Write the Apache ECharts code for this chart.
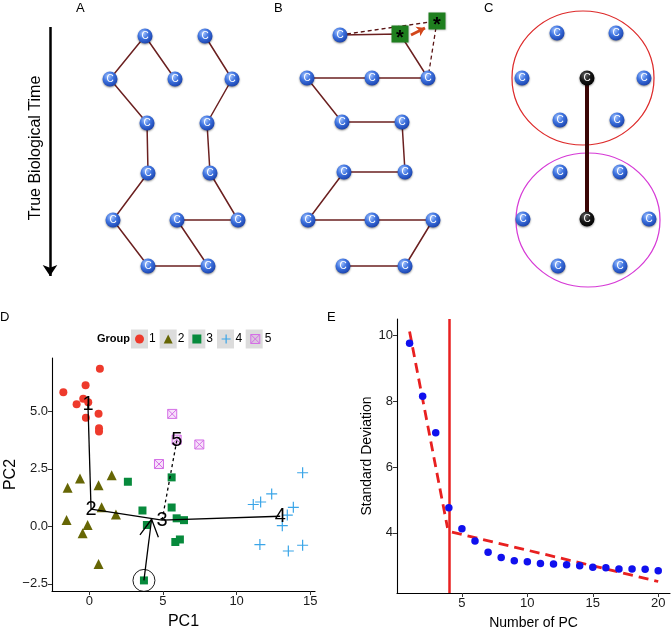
<!DOCTYPE html>
<html><head><meta charset="utf-8">
<script src="https://cdn.jsdelivr.net/npm/echarts@6/dist/echarts.min.js"></script>
<style>html,body{margin:0;padding:0;background:#fff}#c{width:671px;height:631px}</style>
</head><body><div id="c"></div>
<script>
// ================= DATA =================
// Panels A-C: schematic node positions (pixel-like coordinate space 0..671 x 0..631)
const nodesA = [[145,36],[205,36],[110,79],[175,79],[232,79],[147,123],[207,123],[148,173],[210,173],[113,220],[177,220],[238,220],[148,266],[208,266]];
const pathA = [[175,79],[145,36],[110,79],[147,123],[148,173],[113,220],[148,266],[208,266],[177,220],[238,220],[210,173],[207,123],[232,79],[205,36]];
const timeArrow = [[50,27],[50,276]];
const nodesB = [[340,35],[307,78],[372,78],[428,78],[342,122],[402,122],[344,172],[405,172],[308,220],[372,220],[433,220],[343,266],[405,266]];
const pathB = [[340,35],[400,34],[428,78],[372,78],[307,78],[342,122],[402,122],[405,172],[344,172],[308,220],[372,220],[433,220],[405,266],[343,266]];
const dashedB = [[340,35],[437,21],[428,78]];
const starsB = [[400,34],[437,21]];
const moveArrowB = [[411,35],[425,28]];
const nodesC = [[557,33],[616,33],[522,78],[644,78],[560,120],[617,120],[560,172],[620,172],[523,219],[649,219],[558,266],[620,266]];
const centersC = [[587,78],[587,219]];
const circleTopC = [[583,78]];
const circleBottomC = [[588,220]];

// Panel D: PCA scatter
const g1 = [[0.72,6.85],[-0.25,6.13],[-1.76,5.83],[-0.41,5.55],[-0.86,5.31],[-0.07,5.40],[-0.23,4.72],[0.63,4.90],[0.66,4.27],[0.66,4.12]];
const g2 = [[-0.63,2.08],[-1.47,1.68],[1.52,2.22],[0.63,1.79],[0.84,0.83],[1.81,0.52],[-1.54,0.28],[-0.11,0.06],[-0.45,-0.30],[0.63,-1.64]];
const g3 = [[2.62,1.94],[5.59,2.13],[3.61,0.69],[5.59,0.82],[3.91,0.06],[5.93,0.35],[6.43,0.27],[5.84,-0.68],[6.15,-0.57],[3.71,-2.35]];
const g4 = [[14.48,2.33],[12.38,1.41],[11.63,1.06],[11.13,0.95],[13.85,0.83],[13.44,0.49],[13.10,0.03],[11.58,-0.79],[14.48,-0.82],[13.51,-1.07]];
const g5 = [[5.63,4.89],[7.47,3.56],[4.73,2.71],[5.93,3.77]];
const groupNames = ['1','2','3','4','5'];
const clusterX = [-0.09, 0.12, 4.94, 12.96, 5.94];
const clusterY = [5.31, 0.75, 0.27, 0.44, 3.73];
const solidEdges = [[0,1],[1,2],[2,3]];
const dashedEdges = [[2,4]];
const highlightCell = [3.71,-2.35];
const arrowTip = [4.23,0.31];
const arrowHeadL = [3.44,-0.37];
const arrowHeadR = [4.69,-0.47];
const dTicksX = [0,5,10,15];
const dTicksY = [-2.5,0,2.5,5];

// Panel E: scree plot
const pcIndex = [1,2,3,4,5,6,7,8,9,10,11,12,13,14,15,16,17,18,19,20];
const sdValues = [9.76,8.15,7.04,4.76,4.12,3.75,3.41,3.25,3.15,3.12,3.07,3.05,3.03,3.00,2.95,2.94,2.90,2.90,2.89,2.85];
const fitLine1 = [[1,10.12],[3.9,4.15]];
const fitLine2 = [[4.24,4.02],[20,2.52]];
const cutoffPC = 4;
const eTicksX = [5,10,15,20];
const eTicksY = [4,6,8,10];

// ================= STYLE =================
const FONT = '"Liberation Sans", Arial, Helvetica, sans-serif';
const edgeColor = '#6b2020';
const blueBall = {type:'radial', x:0.38, y:0.32, r:0.75, colorStops:[{offset:0,color:'#a9c8ff'},{offset:0.45,color:'#3f74e0'},{offset:1,color:'#163da8'}]};
const blackBall = {type:'radial', x:0.38, y:0.32, r:0.75, colorStops:[{offset:0,color:'#6a6a6a'},{offset:0.5,color:'#151515'},{offset:1,color:'#000'}]};
const colors = ['#ee3a2c','#666605','#078a3c','#3aa5e8','#d46ee6'];
const plusPath = 'path://M5,0L5,10M0,5L10,5';
const boxXPath = 'path://M0,0L10,0L10,10L0,10ZM0,0L10,10M10,0L0,10';

function nodeSeries(data, ball){
  return {type:'scatter', xAxisIndex:0, yAxisIndex:0, data:data, symbol:'circle', symbolSize:15, z:5,
    itemStyle:{color:ball, opacity:1, shadowBlur:2, shadowColor:'rgba(0,0,0,0.45)', shadowOffsetY:1},
    label:{show:true, position:'inside', formatter:'C', color:'#fff', fontSize:10, fontFamily:FONT}, silent:true};
}
function pathSeries(data, style){
  return {type:'line', xAxisIndex:0, yAxisIndex:0, data:data, symbol:'none', z:2, silent:true, lineStyle:style};
}
function axisCommon(){
  return {
    axisLine:{show:true, onZero:false, lineStyle:{color:'#000', width:1.1}},
    splitLine:{show:false},
    nameLocation:'middle'
  };
}
function ticks(vals){ return {show:true, length:4, customValues:vals, lineStyle:{color:'#333'}}; }
function labels(vals, fmt){ return {customValues:vals, color:'#1a1a1a', fontSize:13, margin:4, formatter:fmt}; }
const fmtD = v => (v<0?'\u2212':'') + Math.abs(v).toFixed(1);
const fmtI = v => String(v);

const series = [];
// ---- Panels A/B/C ----
series.push(pathSeries(pathA, {color:edgeColor, width:1.5}));
series.push({type:'lines', coordinateSystem:'cartesian2d', xAxisIndex:0, yAxisIndex:0, silent:true, z:2,
  data:[{coords:timeArrow}], symbol:['none','arrow'], symbolSize:[9,11], lineStyle:{color:'#000', width:2.5, opacity:1}});
series.push(nodeSeries(nodesA, blueBall));
series.push(pathSeries(pathB, {color:edgeColor, width:1.5}));
series.push(pathSeries(dashedB, {color:'#5a1515', width:1.3, type:[4,3]}));
series.push({type:'lines', coordinateSystem:'cartesian2d', xAxisIndex:0, yAxisIndex:0, silent:true, z:3,
  data:[{coords:moveArrowB}], symbol:['none','arrow'], symbolSize:8, lineStyle:{color:'#d2461a', width:3, opacity:1}});
series.push({type:'scatter', xAxisIndex:0, yAxisIndex:0, data:starsB, symbol:'rect', symbolSize:17, z:4, silent:true,
  itemStyle:{color:'#1f7f1f', opacity:1, shadowBlur:2, shadowColor:'rgba(0,0,0,0.3)'},
  label:{show:true, position:'inside', formatter:'*', color:'#000', fontSize:20, fontWeight:'bold', offset:[0,4], fontFamily:FONT}});
series.push(nodeSeries(nodesB, blueBall));
series.push({type:'scatter', xAxisIndex:0, yAxisIndex:0, data:circleTopC, symbol:'circle', symbolSize:[142,134], z:1, silent:true,
  itemStyle:{color:'rgba(0,0,0,0)', opacity:1, borderColor:'#dd2a2a', borderWidth:1.2}});
series.push({type:'scatter', xAxisIndex:0, yAxisIndex:0, data:circleBottomC, symbol:'circle', symbolSize:[144,134], z:1, silent:true,
  itemStyle:{color:'rgba(0,0,0,0)', opacity:1, borderColor:'#d63ad6', borderWidth:1.2}});
series.push(pathSeries(centersC, {color:'#3a0606', width:4}));
series.push(nodeSeries(nodesC, blueBall));
series.push(nodeSeries(centersC, blackBall));

// ---- Panel D ----
const groups = [g1,g2,g3,g4,g5];
const gSymbols = ['circle','triangle','rect',plusPath,boxXPath];
const gSizes = [8,10,8,11,9];
function groupStyle(i){
  if (i===3) return {color:'rgba(0,0,0,0)', opacity:1, borderColor:colors[3], borderWidth:1.2};
  if (i===4) return {color:'rgba(214,110,230,0.2)', opacity:1, borderColor:colors[4], borderWidth:1};
  return {color:colors[i], opacity:1, borderWidth:0};
}
groups.forEach((g,i)=>{
  series.push({type:'scatter', name:groupNames[i], xAxisIndex:1, yAxisIndex:1, data:g, symbol:gSymbols[i], symbolSize:gSizes[i], itemStyle:groupStyle(i), z:3, silent:true});
});
series.push({type:'scatter', xAxisIndex:1, yAxisIndex:1, data:[highlightCell], symbol:'circle', symbolSize:22, z:3, silent:true,
  itemStyle:{color:'rgba(0,0,0,0)', opacity:1, borderColor:'#000', borderWidth:0.9}});
solidEdges.forEach(e=>{
  series.push({type:'line', xAxisIndex:1, yAxisIndex:1, symbol:'none', z:4, silent:true,
    data:[[clusterX[e[0]],clusterY[e[0]]],[clusterX[e[1]],clusterY[e[1]]]], lineStyle:{color:'#000', width:1.3}});
});
dashedEdges.forEach(e=>{
  series.push({type:'line', xAxisIndex:1, yAxisIndex:1, symbol:'none', z:4, silent:true,
    data:[[clusterX[e[0]],clusterY[e[0]]],[clusterX[e[1]],clusterY[e[1]]]], lineStyle:{color:'#000', width:1.3, type:[3,3]}});
});
series.push({type:'line', xAxisIndex:1, yAxisIndex:1, symbol:'none', z:4, silent:true, data:[highlightCell, arrowTip], lineStyle:{color:'#000', width:1.3}});
series.push({type:'line', xAxisIndex:1, yAxisIndex:1, symbol:'none', z:4, silent:true, data:[arrowHeadL, arrowTip, arrowHeadR], lineStyle:{color:'#000', width:1.3}});
series.push({type:'scatter', xAxisIndex:1, yAxisIndex:1, symbolSize:0, z:6, silent:true,
  itemStyle:{opacity:1},
  data:clusterX.map((x,i)=>({value:[x,clusterY[i]], label:{formatter:groupNames[i]}})),
  label:{show:true, position:'inside', color:'#000', fontSize:20, fontFamily:FONT}});

// ---- Panel E ----
series.push({type:'line', xAxisIndex:2, yAxisIndex:2, data:fitLine1, symbol:'none', z:3, silent:true, lineStyle:{color:'#e82020', width:2.8, type:[10,6]}});
series.push({type:'line', xAxisIndex:2, yAxisIndex:2, data:fitLine2, symbol:'none', z:3, silent:true, lineStyle:{color:'#e82020', width:2.8, type:[10,6]},
  markLine:{symbol:'none', silent:true, label:{show:false}, lineStyle:{color:'#e82020', type:'solid', width:2.5}, data:[{xAxis:cutoffPC}]}});
series.push({type:'scatter', xAxisIndex:2, yAxisIndex:2, data:pcIndex.map((p,i)=>[p,sdValues[i]]), symbol:'circle', symbolSize:7.5, z:5, silent:true,
  itemStyle:{color:'#1010ee', opacity:1}});

// ---- Legend (D) ----
const legendData = groupNames.map((n,i)=>({name:n, icon:gSymbols[i], itemStyle:groupStyle(i)}));
const keyBoxes = groupNames.map((n,i)=>({type:'rect', z:1, shape:{x:131+i*28.67, y:329.5, width:17, height:19}, style:{fill:'#dcdcdc'}}));

const panelLabels = [['A',76,2],['B',274,2],['C',484,2],['D',0,311],['E',327,311]];

const option = {
  animation:false,
  textStyle:{fontFamily:FONT},
  grid:[
    {left:0, top:0, width:671, height:631},
    {left:52, top:358, width:263, height:239},
    {left:397, top:319, width:273, height:278}
  ],
  xAxis:[
    {gridIndex:0, type:'value', min:0, max:671, show:false},
    Object.assign(axisCommon(), {gridIndex:1, type:'value', min:-2.53, max:15.32, name:'PC1', nameGap:23,
      nameTextStyle:{fontSize:16, color:'#000', fontFamily:FONT},
      axisTick:ticks(dTicksX), axisLabel:labels(dTicksX, fmtI)}),
    Object.assign(axisCommon(), {gridIndex:2, type:'value', min:0.04, max:20.9, name:'Number of PC', nameGap:23,
      nameTextStyle:{fontSize:14, color:'#000', fontFamily:FONT},
      axisTick:ticks(eTicksX), axisLabel:labels(eTicksX, fmtI)})
  ],
  yAxis:[
    {gridIndex:0, type:'value', min:0, max:631, inverse:true, show:false},
    Object.assign(axisCommon(), {gridIndex:1, type:'value', min:-2.81, max:7.32, name:'PC2', nameGap:31,
      nameTextStyle:{fontSize:16, color:'#000', fontFamily:FONT},
      axisTick:ticks(dTicksY), axisLabel:labels(dTicksY, fmtD)}),
    Object.assign(axisCommon(), {gridIndex:2, type:'value', min:2.17, max:10.5, name:'Standard Deviation', nameGap:18,
      nameTextStyle:{fontSize:14, color:'#000', fontFamily:FONT},
      axisTick:ticks(eTicksY), axisLabel:labels(eTicksY, fmtI)})
  ],
  legend:{
    left:135, top:333, padding:0, itemWidth:9, itemHeight:9, itemGap:8, orient:'horizontal',
    selectedMode:false, data:legendData,
    textStyle:{fontSize:12, color:'#000', fontFamily:FONT}
  },
  graphic:[].concat(keyBoxes, [
    {type:'text', x:97, y:339, z:2, style:{text:'Group', fontSize:11, fontWeight:'bold', fill:'#000', fontFamily:FONT, verticalAlign:'middle'}},
    {type:'text', x:36, y:148, rotation:Math.PI/2, z:2, style:{text:'True Biological Time', fontSize:16, fill:'#000', fontFamily:FONT, align:'center', verticalAlign:'middle'}}
  ], panelLabels.map(p=>({type:'text', x:p[1], y:p[2], z:2, style:{text:p[0], fontSize:13, fill:'#000', fontFamily:FONT}}))),
  series:series
};
const chart = echarts.init(document.getElementById('c'), null, {renderer:'canvas'});
chart.setOption(option);
</script></body></html>
